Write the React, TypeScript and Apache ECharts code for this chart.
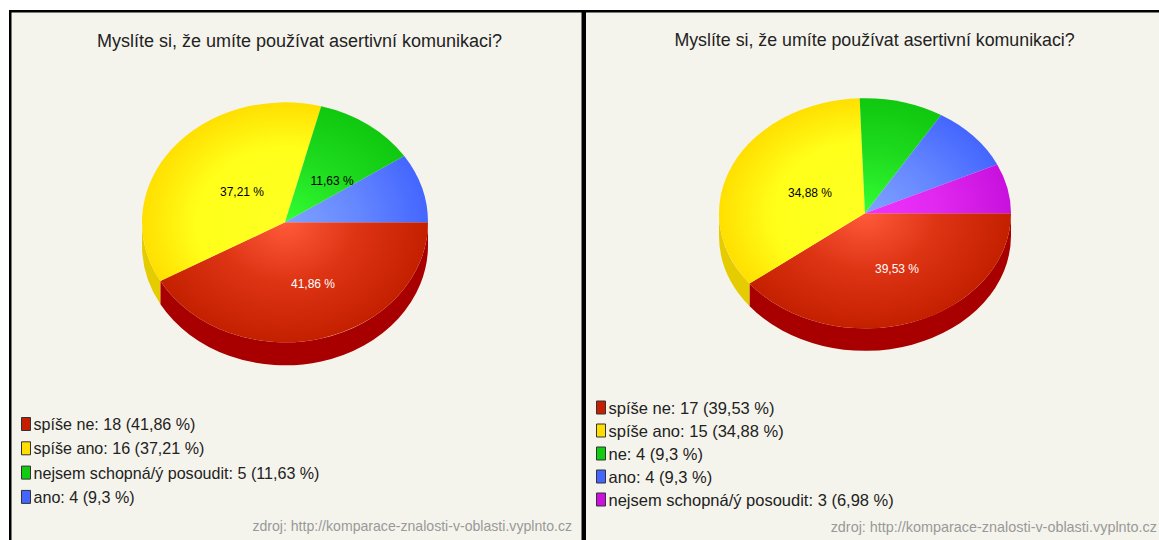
import React, { useEffect, useRef } from "react";
import * as echarts from "echarts";

const titleText = "Myslíte si, že umíte používat asertivní komunikaci?";
const sourceText = "zdroj: http://komparace-znalosti-v-oblasti.vyplnto.cz";

const leftNames = ["spíše ne", "spíše ano", "nejsem schopná/ý posoudit", "ano"];
const leftCounts = [18, 16, 5, 4];
const leftPercents = ["41,86", "37,21", "11,63", "9,3"];
const leftColors = ["red", "yellow", "green", "blue"];

const rightNames = ["spíše ne", "spíše ano", "ne", "ano", "nejsem schopná/ý posoudit"];
const rightCounts = [17, 15, 4, 4, 3];
const rightPercents = ["39,53", "34,88", "9,3", "9,3", "6,98"];
const rightColors = ["red", "yellow", "green", "blue", "magenta"];

const palette: Record<string, { legend: string; inner: string; mid: string; midAt: number; edge: string; side: string }> = {
  red: { legend: "#c42000", inner: "#ff5a3a", mid: "#dd3414", midAt: 0.5, edge: "#c42000", side: "#a80000" },
  yellow: { legend: "#ffdd00", inner: "#ffff22", mid: "#ffff1a", midAt: 0.62, edge: "#ffdf00", side: "#e4cc00" },
  green: { legend: "#11cc11", inner: "#33ff33", mid: "#20dd20", midAt: 0.5, edge: "#0fc80f", side: "#0a9a0a" },
  blue: { legend: "#4466ff", inner: "#7fa2ff", mid: "#6688ff", midAt: 0.5, edge: "#4466ff", side: "#3344bb" },
  magenta: { legend: "#cc11dd", inner: "#f033ff", mid: "#e028f0", midAt: 0.5, edge: "#c811dd", side: "#990aa8" },
};

const FONT = "Liberation Sans";
const W = 1159;
const H = 540;
const PANEL = "#f5f4ec";

type PieGeom = { cx: number; cy: number; rx: number; ry: number; depth: number; labels: Record<number, [number, number]> };
const leftGeom: PieGeom = { cx: 285, cy: 222.3, rx: 143, ry: 120, depth: 23, labels: { 0: [313, 284], 1: [242, 192], 2: [332, 181] } };
const rightGeom: PieGeom = { cx: 865, cy: 213.3, rx: 146, ry: 115, depth: 22.5, labels: { 0: [897, 269], 1: [810, 193] } };

const legendLabel = (names: string[], counts: number[], percents: string[], i: number) =>
  `${names[i]}: ${counts[i]} (${percents[i]} %)`;

function sliceSeries(
  names: string[],
  counts: number[],
  percents: string[],
  colors: string[],
  g: PieGeom
) {
  const total = counts.reduce((a, b) => a + b, 0);
  let acc = 0;
  return counts.map((c, i) => {
    const from = acc;
    acc += c;
    const col = palette[colors[i]];
    return {
      type: "custom",
      name: legendLabel(names, counts, percents, i),
      coordinateSystem: "none",
      itemStyle: { color: col.legend },
      silent: true,
      data: [[from, c, total]],
      renderItem: (_p: any, api: any) => {
        const a0 = (api.value(0) / api.value(2)) * Math.PI * 2;
        const a1 = ((api.value(0) + api.value(1)) / api.value(2)) * Math.PI * 2;
        const children: any[] = [];
        const w0 = Math.min(a0, Math.PI);
        const w1 = Math.min(a1, Math.PI);
        if (w1 > w0) {
          const pt = (a: number, dy: number) =>
            `${g.cx + g.rx * Math.cos(a)} ${g.cy + dy + g.ry * Math.sin(a)}`;
          children.push({
            type: "path",
            shape: {
              pathData:
                `M ${pt(w0, 0)} A ${g.rx} ${g.ry} 0 0 1 ${pt(w1, 0)} ` +
                `L ${pt(w1, g.depth)} A ${g.rx} ${g.ry} 0 0 0 ${pt(w0, g.depth)} Z`,
            },
            style: { fill: col.side },
          });
        }
        children.push({
          type: "group",
          x: g.cx,
          y: g.cy,
          scaleY: g.ry / g.rx,
          children: [
            {
              type: "sector",
              shape: { cx: 0, cy: 0, r0: 0, r: g.rx, startAngle: a0, endAngle: a1, clockwise: true },
              style: {
                fill: {
                  type: "radial",
                  x: 0,
                  y: 0,
                  r: g.rx,
                  global: true,
                  colorStops: [
                    { offset: 0, color: col.inner },
                    { offset: col.midAt, color: col.mid },
                    { offset: 1, color: col.edge },
                  ],
                },
              },
            },
          ],
        });
        const lp = g.labels[i];
        if (lp) {
          children.push({
            type: "text",
            x: lp[0],
            y: lp[1],
            z2: 100,
            style: {
              text: `${percents[i]} %`,
              fill: colors[i] === "red" ? "#ffffff" : "#000000",
              font: `12px "${FONT}"`,
              align: "center",
              verticalAlign: "middle",
            },
          });
        }
        return { type: "group", children };
      },
    };
  });
}

const legendOf = (names: string[], counts: number[], percents: string[], left: number, top: number, gap: number, size: number) => ({
  orient: "vertical",
  left,
  top,
  itemWidth: 9,
  itemHeight: 13,
  itemGap: gap,
  selectedMode: false,
  icon: "rect",
  padding: 0,
  itemStyle: { borderColor: "#333333", borderWidth: 1 },
  textStyle: { fontFamily: FONT, fontSize: size, color: "#222222", padding: [0, 0, 0, -2] },
  data: names.map((_, i) => legendLabel(names, counts, percents, i)),
});

const titleOf = (left: number, top: number, size: number) => ({
  text: titleText,
  left,
  top,
  textAlign: "center",
  padding: 0,
  textStyle: { fontFamily: FONT, fontSize: size, fontWeight: "normal", color: "#222222" },
});

export default function App() {
  const ref = useRef<HTMLDivElement>(null);
  useEffect(() => {
    const chart = echarts.init(ref.current!, undefined, { renderer: "svg" });
    chart.setOption({
      animation: false,
      backgroundColor: "#ffffff",
      title: [titleOf(299.5, 32, 18), titleOf(874.5, 31, 17.8)],
      legend: [
        legendOf(leftNames, leftCounts, leftPercents, 21, 416, 8.3, 16.1),
        legendOf(rightNames, rightCounts, rightPercents, 596, 399, 6, 16.5),
      ],
      graphic: [
        { type: "rect", z: -10, shape: { x: 11, y: 12, width: 570.5, height: H }, style: { fill: PANEL } },
        { type: "rect", z: -10, shape: { x: 586, y: 12, width: W - 586, height: H }, style: { fill: PANEL } },
        { type: "rect", z: -10, shape: { x: 9, y: 10, width: W - 9, height: 2.5 }, style: { fill: "#000000" } },
        { type: "rect", z: -10, shape: { x: 9, y: 10, width: 2.5, height: H }, style: { fill: "#000000" } },
        { type: "rect", z: -10, shape: { x: 581.5, y: 10, width: 4.5, height: H }, style: { fill: "#000000" } },
        { type: "text", x: 572, y: 526, style: { text: sourceText, fill: "#999999", font: `14.1px "${FONT}"`, align: "right", verticalAlign: "middle" } },
        { type: "text", x: 1157, y: 527, style: { text: sourceText, fill: "#999999", font: `14.4px "${FONT}"`, align: "right", verticalAlign: "middle" } },
      ],
      series: [
        ...sliceSeries(leftNames, leftCounts, leftPercents, leftColors, leftGeom),
        ...sliceSeries(rightNames, rightCounts, rightPercents, rightColors, rightGeom),
      ],
    });
    return () => chart.dispose();
  }, []);
  return <div ref={ref} style={{ position: "fixed", left: 0, top: 0, width: W, height: H }} />;
}
